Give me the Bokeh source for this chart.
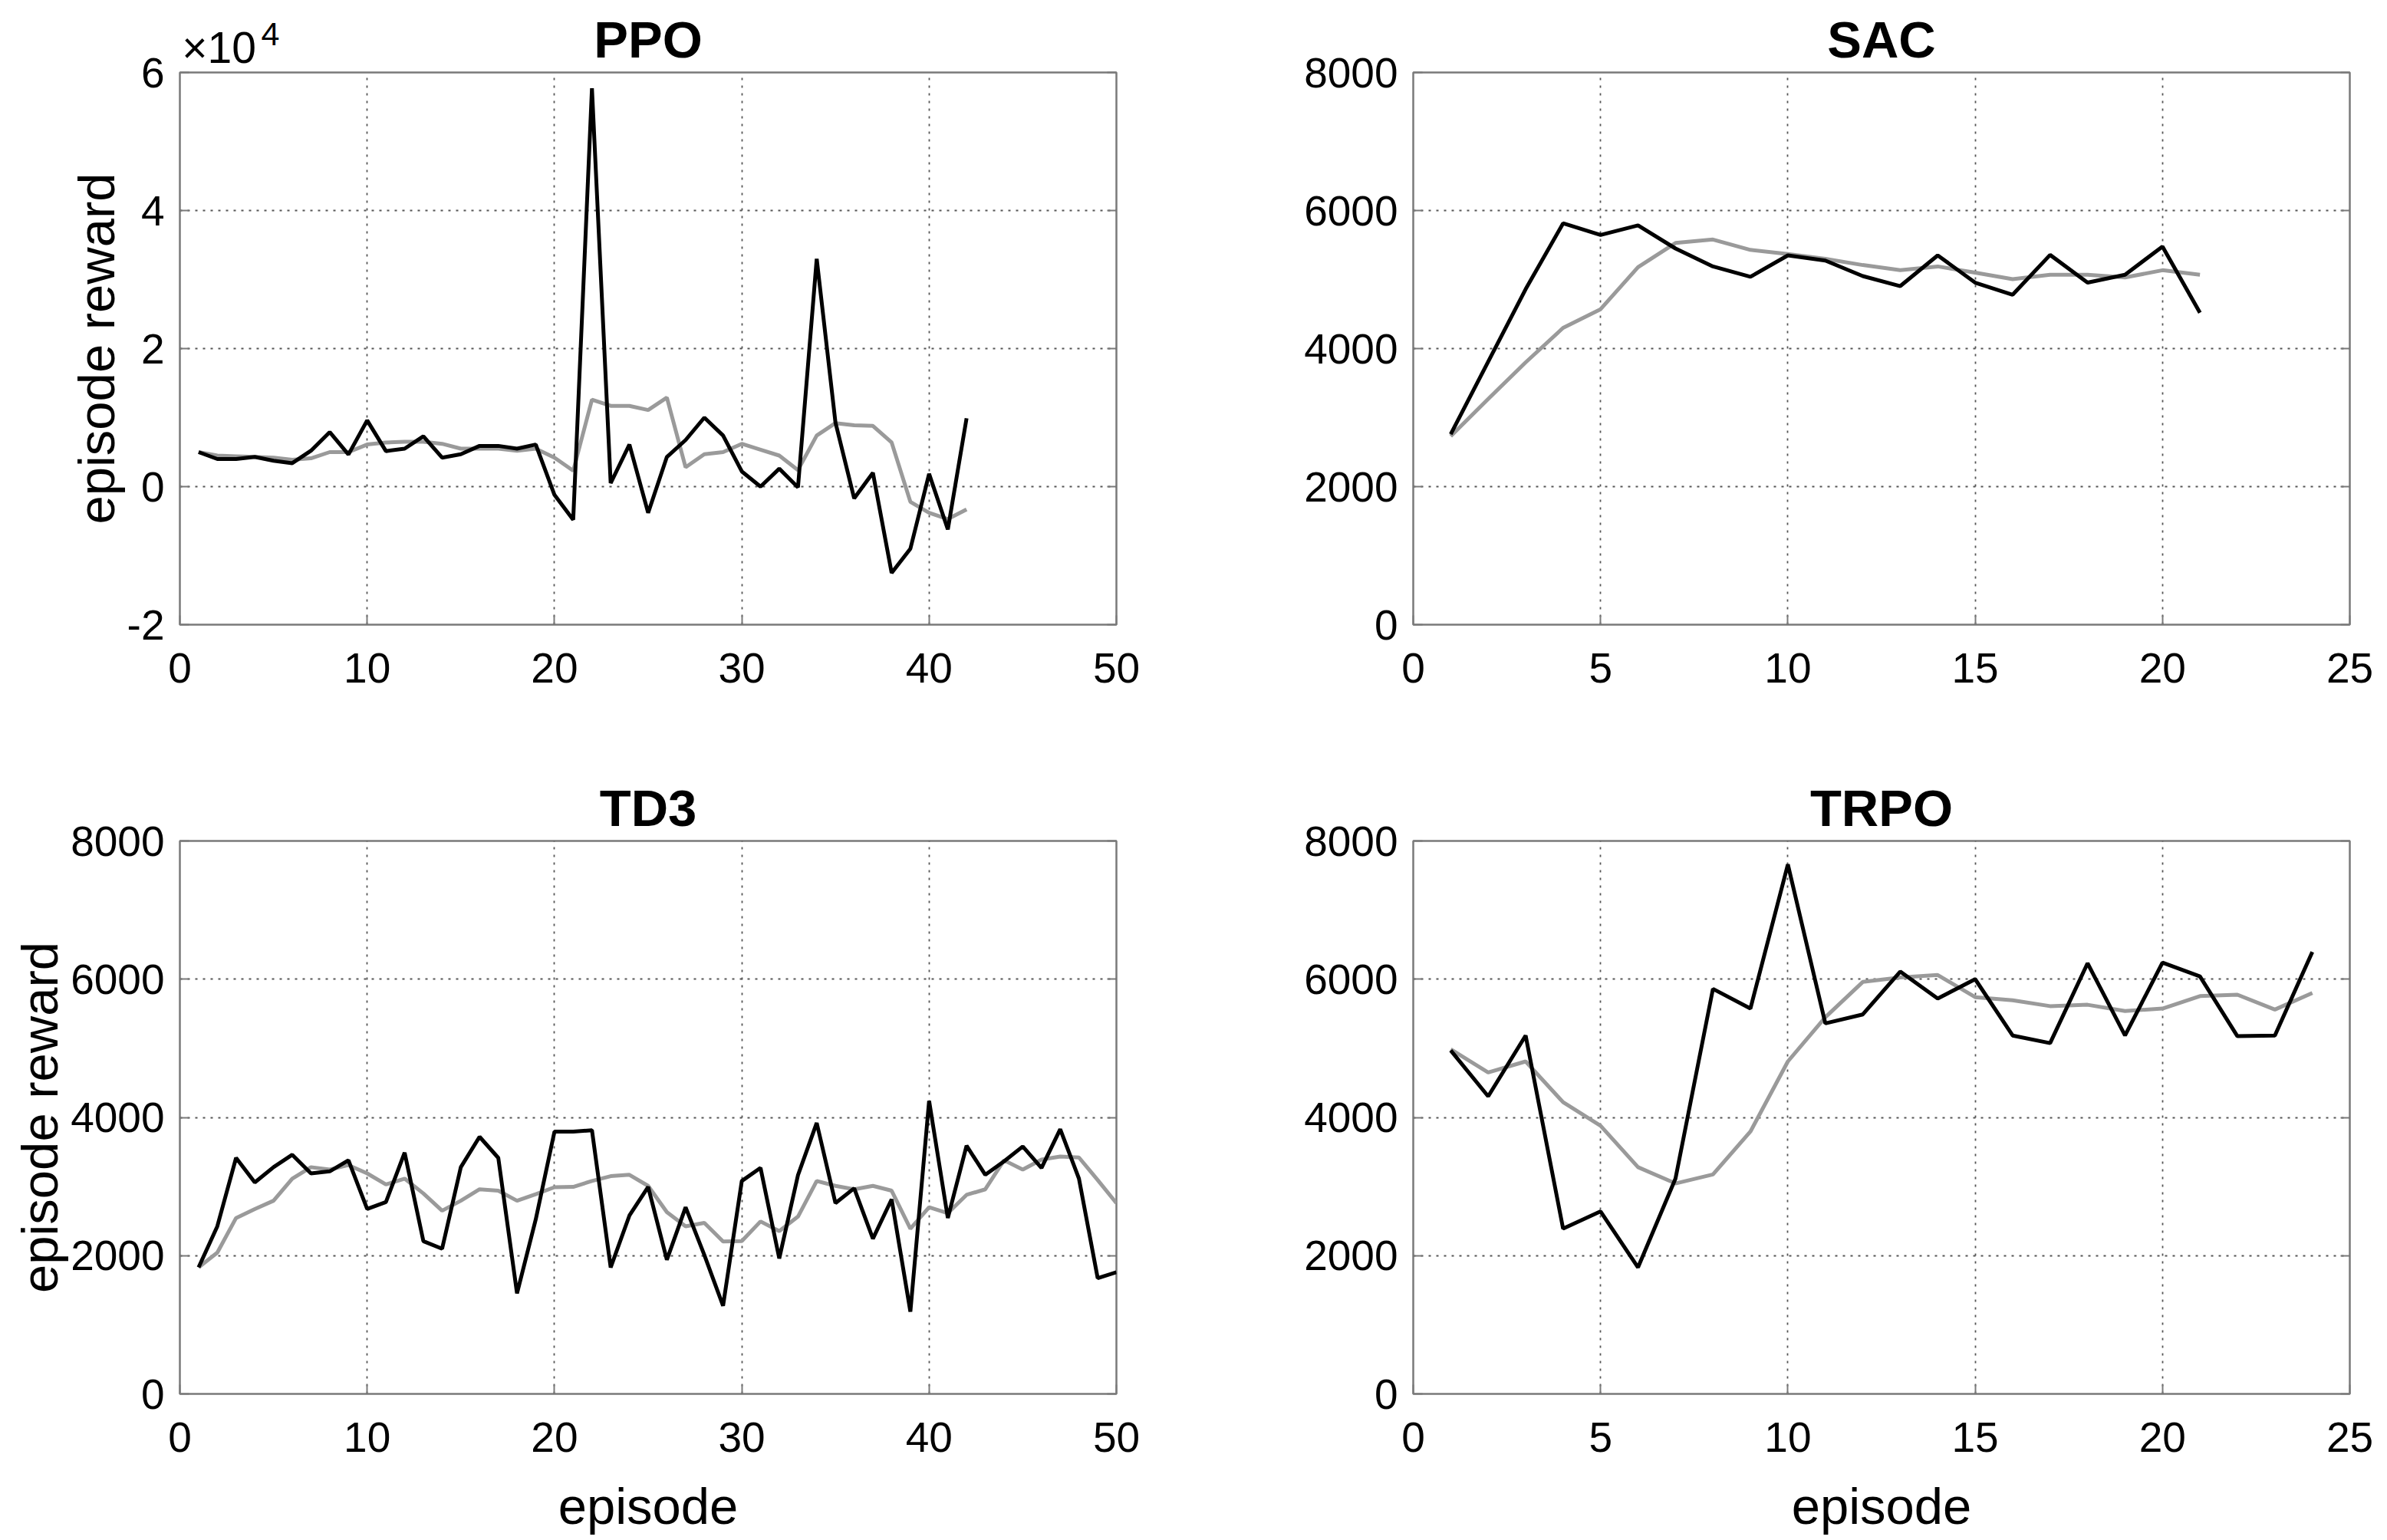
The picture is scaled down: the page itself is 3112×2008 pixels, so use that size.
from bokeh.plotting import figure
from bokeh.layouts import column, row
from bokeh.models import FixedTicker, LinearAxis
from bokeh.embed import file_html
from bokeh.resources import INLINE

FONT = "Liberation Sans"

# ---------------- data ----------------
ppo_raw = [5000, 4000, 4000, 4300, 3750, 3400, 5200, 7900, 4650, 9600,
           5150, 5500, 7300, 4200, 4700, 5900, 5900, 5500, 6100, -1200,
           -4800, 57700, 500, 6100, -3800, 4300, 6750, 10000, 7400, 2200,
           0, 2600, -100, 33000, 9300, -1700, 2000, -12500, -9000, 1850,
           -6200, 9900]
ppo_avg = [5000, 4500, 4400, 4300, 4200, 3900, 4100, 5000, 5000, 6100,
           6400, 6500, 6500, 6200, 5500, 5500, 5500, 5200, 5500, 4200,
           2300, 12600, 11700, 11700, 11100, 12900, 2800, 4700, 5000, 6200,
           5350, 4500, 2400, 7400, 9200, 8900, 8800, 6400, -2200, -3800,
           -4700, -3300]

sac_raw = [2760, 3810, 4860, 5815, 5645, 5785, 5450, 5190, 5040, 5350,
           5275, 5050, 4905, 5350, 4955, 4780, 5357, 4955, 5070, 5478, 4520]
sac_avg = [2730, 3270, 3800, 4300, 4570, 5180, 5530, 5580, 5430, 5370,
           5300, 5210, 5135, 5190, 5100, 5005, 5070, 5070, 5030, 5135, 5070]

td3_raw = [1830, 2425, 3415, 3060, 3280, 3460, 3190, 3220, 3380, 2675,
           2775, 3490, 2210, 2100, 3280, 3720, 3415, 1455, 2525, 3795,
           3795, 3815, 1830, 2580, 2995, 1940, 2700, 2010, 1275, 3080,
           3270, 1960, 3165, 3920, 2760, 2975, 2245, 2815, 1190, 4240,
           2545, 3590, 3170, 3365, 3580, 3270, 3830, 3115, 1675, 1760]
td3_avg = [1830, 2045, 2545, 2675, 2795, 3115, 3280, 3245, 3310, 3190,
           3030, 3115, 2900, 2650, 2795, 2960, 2940, 2795, 2890, 2990,
           2995, 3080, 3150, 3170, 3010, 2630, 2425, 2475, 2205, 2210,
           2495, 2355, 2565, 3080, 3010, 2960, 3010, 2940, 2390, 2700,
           2615, 2880, 2960, 3380, 3245, 3390, 3435, 3420, 3095, 2760]

trpo_raw = [4970, 4305, 5185, 2390, 2640, 1830, 3115, 5860, 5575, 7660,
            5360, 5490, 6110, 5720, 6000, 5185, 5075, 6230, 5185, 6240,
            6040, 5175, 5185, 6395]
trpo_avg = [4985, 4650, 4810, 4220, 3880, 3280, 3045, 3175, 3795, 4810,
            5450, 5960, 6025, 6060, 5740, 5695, 5610, 5630, 5540, 5575,
            5755, 5775, 5560, 5800]

ppo_yticks = [-20000, 0, 20000, 40000, 60000]
ppo_ylabels = ["-2", "0", "2", "4", "6"]
ppo_exponent = ("×10", "4")      # mantissa marker and its superscript
std_yticks = [0, 2000, 4000, 6000, 8000]
xticks_50 = [0, 10, 20, 30, 40, 50]
xticks_25 = [0, 5, 10, 15, 20, 25]

BLACK = "#000000"
GRAY = "#9a9a9a"
FRAME = "#7a7a7a"


def bare_axis(tick, text, size, standoff):
    ax = LinearAxis(ticker=FixedTicker(ticks=[tick]),
                    major_label_overrides={tick: text})
    ax.axis_line_color = None
    ax.major_tick_line_color = None
    ax.minor_tick_line_color = None
    ax.major_tick_out = 0
    ax.major_tick_in = 0
    ax.major_label_text_font = FONT
    ax.major_label_text_font_size = size
    ax.major_label_text_color = "#000000"
    ax.major_label_standoff = standoff
    return ax


def make(title, raw, avg, xmax, xticks, yrange, yticks, ylabels, exponent,
         width, height, bl, br, bt, bb, ylab, xlab):
    p = figure(width=width, height=height, output_backend="svg",
               toolbar_location=None, x_range=(0, xmax), y_range=yrange,
               title_location=None,
               min_border_left=bl, min_border_right=br,
               min_border_top=bt, min_border_bottom=bb)

    xs = list(range(1, len(raw) + 1))
    p.line(xs, avg, line_color=GRAY, line_width=5)
    p.line(xs, raw, line_color=BLACK, line_width=5)

    p.xaxis.ticker = FixedTicker(ticks=xticks)
    p.yaxis.ticker = FixedTicker(ticks=yticks)
    if ylabels is not None:
        p.yaxis.major_label_overrides = {t: l for t, l in zip(yticks, ylabels)}
    for ax in (p.xaxis, p.yaxis):
        ax.major_label_text_font = FONT
        ax.major_label_text_font_size = "55px"
        ax.major_label_text_color = "#000000"
        ax.axis_line_color = None
        ax.major_tick_line_color = FRAME
        ax.major_tick_line_width = 2
        ax.major_tick_in = 12
        ax.major_tick_out = 0
        ax.minor_tick_line_color = None
        ax.axis_label_text_font = FONT
        ax.axis_label_text_font_size = "67px"
        ax.axis_label_text_font_style = "normal"
        ax.axis_label_text_color = "#000000"
    p.xaxis.major_label_standoff = 37
    p.yaxis.major_label_standoff = 20
    p.xaxis.axis_label_standoff = 30
    p.yaxis.axis_label_standoff = 0
    if ylab:
        p.yaxis.axis_label = "episode reward"
    if xlab:
        p.xaxis.axis_label = "episode"

    # inward ticks on the right edge of the box
    right = LinearAxis(ticker=FixedTicker(ticks=yticks),
                       major_label_overrides={t: "" for t in yticks})
    right.axis_line_color = None
    right.major_tick_line_color = FRAME
    right.major_tick_line_width = 2
    right.major_tick_in = 12
    right.major_tick_out = 0
    right.minor_tick_line_color = None
    right.major_label_standoff = 0
    right.major_label_text_font_size = "1px"
    p.add_layout(right, "right")

    # title (and the PPO exponent marker) carried by axes above the frame
    if exponent:
        top = bare_axis(xticks[1] * 0.209, exponent[0], "57px", 1)
    else:
        top = bare_axis(xmax / 2, " ", "57px", 1)
    top.axis_label = title
    top.axis_label_text_font = FONT
    top.axis_label_text_font_size = "67px"
    top.axis_label_text_font_style = "bold"
    top.axis_label_text_color = "#000000"
    top.axis_label_standoff = -62
    p.add_layout(top, "above")
    if exponent:
        sup = bare_axis(xticks[1] * 0.483, exponent[1], "43px", -48)
        p.add_layout(sup, "above")

    for g in (p.xgrid, p.ygrid):
        g.grid_line_color = "#555555"
        g.grid_line_width = 1.8
        g.grid_line_dash = "3 7"
    p.xgrid.ticker = FixedTicker(ticks=xticks)
    p.ygrid.ticker = FixedTicker(ticks=yticks)

    p.outline_line_color = FRAME
    p.outline_line_width = 2.5
    p.outline_line_alpha = 1.0
    p.background_fill_color = "white"
    p.border_fill_color = "white"
    return p


p1 = make("PPO", ppo_raw, ppo_avg, 50, xticks_50, (-20000, 60000),
          ppo_yticks, ppo_ylabels, ppo_exponent,
          1642, 1002, 234, 187, 94, 188, True, False)
p2 = make("SAC", sac_raw, sac_avg, 25, xticks_25, (0, 8000),
          std_yticks, None, None, 1468, 1002, 200, 47, 94, 188, False, False)
p3 = make("TD3", td3_raw, td3_avg, 50, xticks_50, (0, 8000),
          std_yticks, None, None, 1642, 1004, 234, 187, 94, 189, True, True)
p4 = make("TRPO", trpo_raw, trpo_avg, 25, xticks_25, (0, 8000),
          std_yticks, None, None, 1468, 1004, 200, 47, 94, 189, False, True)

layout = column(row(p1, p2, spacing=0), row(p3, p4, spacing=0), spacing=0)

open("out.html", "w").write(file_html(layout, INLINE))
